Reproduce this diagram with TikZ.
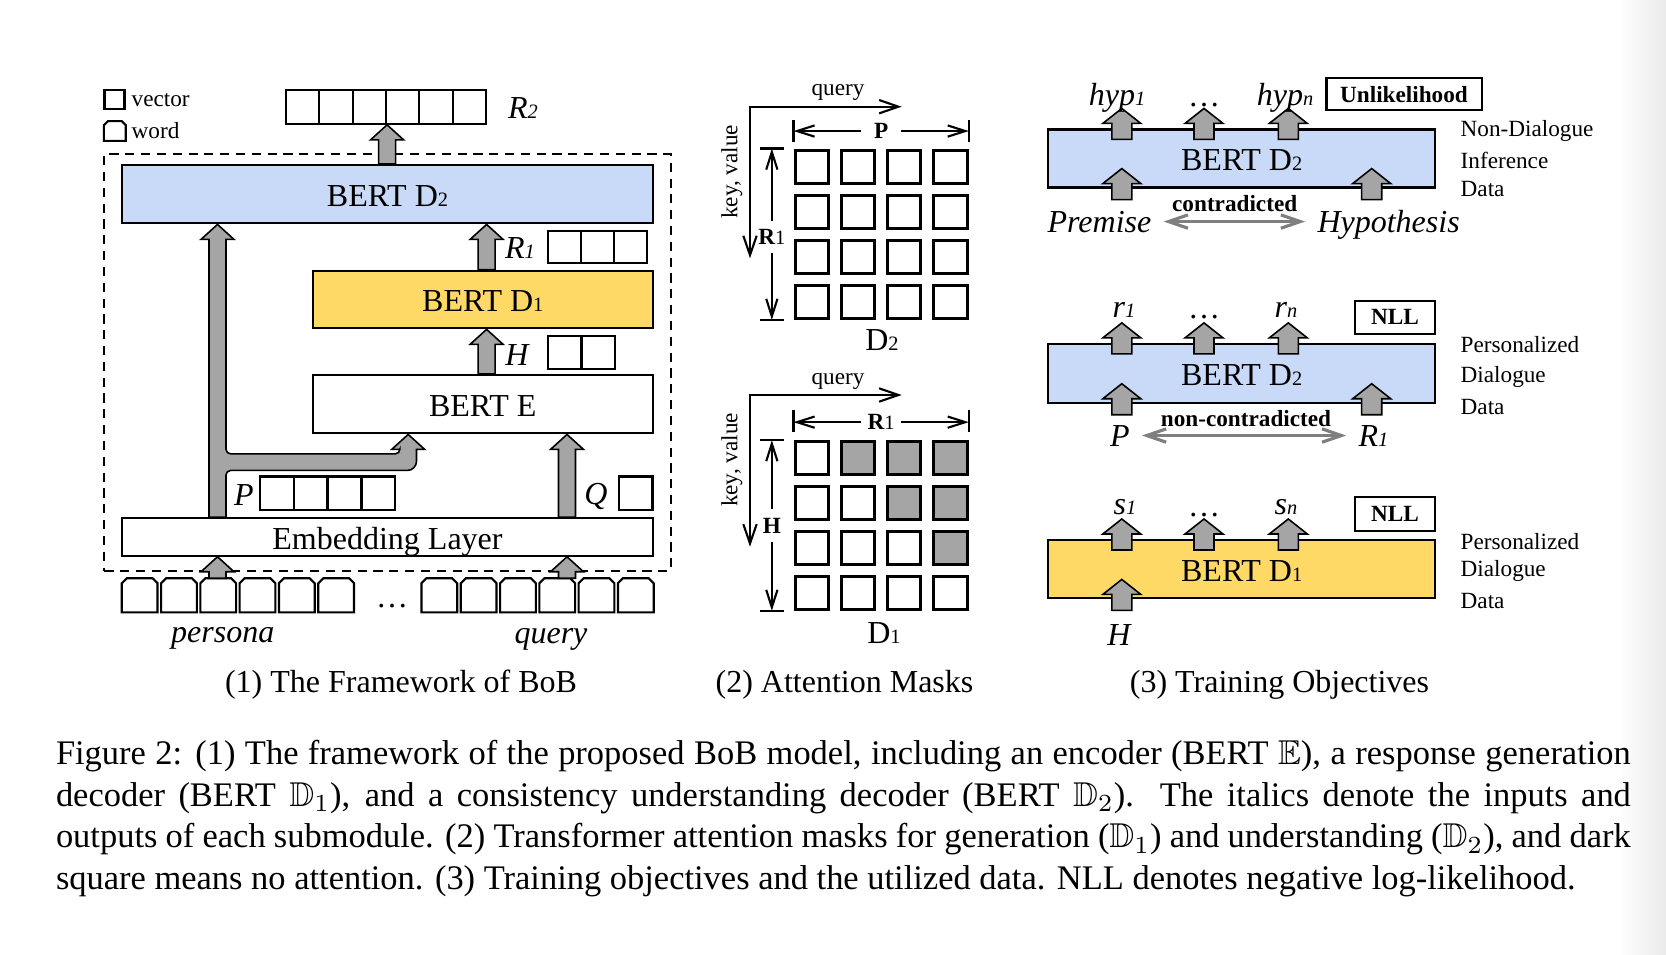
\documentclass[tikz,border=0pt]{standalone}
\usepackage{fontspec}
\setmainfont{Liberation Serif}
\usepackage{amssymb}
\usetikzlibrary{positioning,calc,arrows.meta}

\definecolor{bertblue}{HTML}{C9DAF8}
\definecolor{bertyellow}{HTML}{FFD966}
\definecolor{arrgray}{HTML}{A5A5A5}
\definecolor{linkgray}{HTML}{7F7F7F}

\newcommand{\mdfont}{\fontsize{9.1}{11}\selectfont}
\newcommand{\smfont}{\fontsize{6.6}{8}\selectfont}
\newcommand{\capfont}{\fontsize{9.8}{11.8}\selectfont}
\newcommand{\lo}[1]{{\fontsize{5.8}{7}\selectfont #1}}
\newcommand{\vname}[2]{\textit{#1\lo{#2}}}

% fat block arrow pointing up: from, to, half shaft, half head, head length
\newcommand{\fatarrow}[5]{%
  \draw[fatarr] let \p1=#1, \p2=#2 in
    (\x1-#3,\y1) -- (\x1-#3,\y2-#5) -- (\x1-#4,\y2-#5) -- (\x1,\y2)
    -- (\x1+#4,\y2-#5) -- (\x1+#3,\y2-#5) -- (\x1+#3,\y1) -- cycle;}
\newcommand{\bigup}[2]{\fatarrow{#1}{#2}{0.085cm}{0.165cm}{0.15cm}}
\newcommand{\smup}[2]{\fatarrow{#1}{#2}{0.1cm}{0.19cm}{0.15cm}}
% word token outline, top corners cut
\newcommand{\wordbox}[2]{%
  \draw[tokline] (#1.south west) -- ($(#1.north west)+(0,#2)$) -- ($(#1.north west)+(#2,0)$)
    -- ($(#1.north east)+(-#2,0)$) -- ($(#1.north east)+(0,#2)$) -- (#1.south east) -- cycle;}

\tikzset{
  box/.style={draw, line width=0.6pt, inner sep=0pt, font=\mdfont, text height=7pt, text depth=0pt},
  dashframe/.style={draw, dash pattern=on 2.6pt off 1.9pt, line width=0.6pt, inner sep=0pt},
  vec/.style={draw, line width=0.6pt, inner sep=0pt, minimum width=0.333cm, minimum height=0.335cm},
  tok/.style={inner sep=0pt, minimum width=0.343cm, minimum height=0.327cm},
  tokline/.style={line width=0.6pt, line join=miter},
  cell/.style={draw, fill=white, line width=0.85pt, inner sep=0pt, minimum size=0.333cm},
  fatarr/.style={draw=black, fill=arrgray, line width=0.45pt},
  lbl/.style={font=\mdfont\itshape, anchor=base},
  txt/.style={font=\mdfont},
  smalltxt/.style={font=\smfont},
  lossbox/.style={draw, line width=0.6pt, inner sep=0pt, font=\smfont\bfseries},
  axisline/.style={line width=0.6pt, {Straight Barb[length=5.5pt,width=3.8pt]}-{Straight Barb[length=5.5pt,width=3.8pt]}},
  dimline/.style={line width=0.6pt, {Straight Barb[length=5pt,width=3.2pt]}-{Straight Barb[length=5pt,width=3.2pt]}},
  dimlab/.style={fill=white, inner sep=0pt, font=\smfont\bfseries},
  dimtick/.style={line width=0.6pt},
  linkarr/.style={draw=linkgray, line width=0.9pt, {Straight Barb[length=5.5pt,width=3.8pt]}-{Straight Barb[length=5.5pt,width=3.8pt]}},
}

\begin{document}
\begin{tikzpicture}[x=0.01cm, y=-0.01cm]
  \useasboundingbox (0,0) rectangle (1666,954);
  \shade[left color=white, right color=black!8] (1618,0) rectangle (1666,954);

  % (1) framework
  \node[dashframe, minimum width=5.66cm, minimum height=4.162cm] (frame) at (387.6,362.6) {};
  \node[box, fill=bertblue, minimum width=5.30cm, minimum height=0.583cm] (d2) at (387.5,194.2) {BERT D\lo{2}};
  \node[box, fill=bertyellow, minimum width=3.396cm, minimum height=0.576cm] (d1) at (482.8,299.5) {BERT D\lo{1}};
  \node[box, fill=white, minimum width=3.396cm, minimum height=0.583cm] (enc) at (482.8,404.2) {BERT E};
  \node[box, fill=white, minimum width=5.30cm, minimum height=0.374cm] (emb) at (387.5,537) {Embedding Layer};

  \foreach \k in {1,...,6}
    \node[vec] (r2c\k) at ({302.7+33.33*(\k-1)},107) {};
  \foreach \k in {1,2,3}
    \node[vec, minimum height=0.326cm] (r1c\k) at ({564.5+33*(\k-1)},247) {};
  \foreach \k in {1,2}
    \node[vec] (hc\k) at ({564.75+33.5*(\k-1)},352.5) {};
  \foreach \k in {1,...,4}
    \node[vec] (pc\k) at ({277.1+33.7*(\k-1)},493.3) {};
  \node[vec] (qc1) at (635.8,493.3) {};

  \node[lbl] (r2lab) at (523,118.5) {\vname{R}{2}};
  \node[lbl] (r1lab) at (520,258.3) {\vname{R}{1}};
  \node[lbl] (hlab) at (517,365) {H};
  \node[lbl] (plab) at (244,505) {P};
  \node[lbl] (qlab) at (596,504) {Q};

  \foreach \k in {1,...,6} {
    \node[tok] (tl\k) at ({139.65+39.3*(\k-1)},595.3) {};
    \wordbox{tl\k}{5}
    \node[tok] (tr\k) at ({439.35+39.3*(\k-1)},595.3) {};
    \wordbox{tr\k}{5}
  }
  \node[txt, anchor=base] (dotsl) at (392,607) {\dots};
  \node[lbl] (persona) at (222.8,642.5) {persona};
  \node[lbl] (query) at (551,643) {query};

  \node[vec, minimum width=0.2cm, minimum height=0.19cm] (legvec) at (114.5,99.7) {};
  \node[smalltxt, anchor=west, inner sep=0pt] (legvectxt) at (131,99.7) {vector};
  \node[tok, minimum width=0.204cm, minimum height=0.183cm] (legtok) at (114.8,131) {};
  \wordbox{legtok}{4}
  \node[smalltxt, anchor=west, inner sep=0pt] (legtoktxt) at (131,131) {word};

  \coordinate (lx) at (217.5,0);
  \coordinate (bx) at (408.2,0);
  \coordinate (qx) at (567,0);
  \coordinate (rx) at (486.6,0);

  \bigup{(d2.north -| r2c3.south east)}{(r2c3.south east)}
  \bigup{(d1.north -| rx)}{(d2.south -| rx)}
  \bigup{(enc.north -| rx)}{(d1.south -| rx)}
  \bigup{(emb.north -| qx)}{(enc.south -| qx)}
  \bigup{(tl3.north -| lx)}{(emb.south -| lx)}
  \bigup{(tr4.north -| qx)}{(emb.south -| qx)}
  % persona goes to D2 and, through a branch, to E
  \draw[fatarr] let \p1=(emb.north -| lx), \p2=(d2.south -| lx), \p3=(enc.south -| bx) in
    (\x1-0.085cm,\y1) -- (\x1-0.085cm,\y2-0.15cm) -- (\x1-0.165cm,\y2-0.15cm) -- (\x2,\y2)
    -- (\x1+0.165cm,\y2-0.15cm) -- (\x1+0.085cm,\y2-0.15cm)
    [rounded corners=1.3pt] -- (\x1+0.085cm,\y3-0.194cm) -- (\x3-0.083cm,\y3-0.194cm)
    [sharp corners] -- (\x3-0.083cm,\y3-0.15cm) -- (\x3-0.165cm,\y3-0.15cm) -- (\x3,\y3)
    -- (\x3+0.165cm,\y3-0.15cm) -- (\x3+0.083cm,\y3-0.15cm)
    [rounded corners=2.6pt] -- (\x3+0.083cm,\y3-0.36cm)
    [rounded corners=1.3pt] -- (\x1+0.085cm,\y3-0.36cm)
    [sharp corners] -- (\x1+0.085cm,\y1) -- cycle;

  \node[txt] (cap1) at (401,685) {(1) The Framework of BoB};

  % (2) attention masks
  \foreach \i in {1,...,4}
    \foreach \j in {1,...,4} {
      \node[cell] (mtop-\i-\j) at ({811.7+46.3*(\j-1)},{166.7+45*(\i-1)}) {};
      \ifnum\j>\i \def\cf{arrgray}\else\def\cf{white}\fi
      \node[cell, fill=\cf] (mbot-\i-\j) at ({811.7+46.3*(\j-1)},{458.3+44.8*(\i-1)}) {};
    }

  \coordinate (qa0) at (750,106.7);
  \coordinate (qa1) at (901.7,106.7);
  \coordinate (ka1) at (750,258.3);
  \draw[axisline] (ka1) -- (qa0) -- (qa1);
  \node[smalltxt] (qtop) at (838,92.5) {query};
  \node[smalltxt, rotate=90] (ktop) at (731.7,171.7) {key, value};
  \draw[dimline] ($(mtop-1-1.north west)+(0,-17.5)$) --
    node[dimlab, minimum width=0.4cm] (pdim) {P} ($(mtop-1-4.north east)+(0,-17.5)$);
  \draw[dimtick] ($(mtop-1-1.north west)+(0,-29)$) -- ($(mtop-1-1.north west)+(0,-7)$);
  \draw[dimtick] ($(mtop-1-4.north east)+(0,-29)$) -- ($(mtop-1-4.north east)+(0,-7)$);
  \draw[dimline] ($(mtop-1-1.north west)+(-21.7,0)$) --
    node[dimlab, minimum height=0.32cm, yshift=-0.03cm] (r1dim) {R\lo{\mdseries 1}} ($(mtop-4-1.south west)+(-21.7,0)$);
  \draw[dimtick] ($(mtop-1-1.north west)+(-33.3,0)$) -- ($(mtop-1-1.north west)+(-10,0)$);
  \draw[dimtick] ($(mtop-4-1.south west)+(-33.3,0)$) -- ($(mtop-4-1.south west)+(-10,0)$);
  \node[txt] (d2lab) at (882,340) {D\lo{2}};

  \coordinate (qb0) at (750,395);
  \coordinate (qb1) at (901.7,395);
  \coordinate (kb1) at (750,546.7);
  \draw[axisline] (kb1) -- (qb0) -- (qb1);
  \node[smalltxt] (qbot) at (838,381) {query};
  \node[smalltxt, rotate=90] (kbot) at (731.7,460) {key, value};
  \draw[dimline] ($(mbot-1-1.north west)+(0,-18)$) --
    node[dimlab, minimum width=0.4cm] (r1dimb) {R\lo{\mdseries 1}} ($(mbot-1-4.north east)+(0,-18)$);
  \draw[dimtick] ($(mbot-1-1.north west)+(0,-29.7)$) -- ($(mbot-1-1.north west)+(0,-8)$);
  \draw[dimtick] ($(mbot-1-4.north east)+(0,-29.7)$) -- ($(mbot-1-4.north east)+(0,-8)$);
  \draw[dimline] ($(mbot-1-1.north west)+(-21.7,0)$) --
    node[dimlab, minimum height=0.32cm] (hdim) {H} ($(mbot-4-1.south west)+(-21.7,0)$);
  \draw[dimtick] ($(mbot-1-1.north west)+(-33.3,0)$) -- ($(mbot-1-1.north west)+(-10,0)$);
  \draw[dimtick] ($(mbot-4-1.south west)+(-33.3,0)$) -- ($(mbot-4-1.south west)+(-10,0)$);
  \node[txt] (d1lab) at (884,633.3) {D\lo{1}};

  \node[txt] (cap2) at (844.5,685) {(2) Attention Masks};

  % (3) training objectives
  \node[box, fill=bertblue, minimum width=3.866cm, minimum height=0.58cm] (ta) at (1241.7,158.5) {BERT D\lo{2}};
  \node[box, fill=bertblue, minimum width=3.866cm, minimum height=0.587cm] (tb) at (1241.7,373.3) {BERT D\lo{2}};
  \node[box, fill=bertyellow, minimum width=3.866cm, minimum height=0.583cm] (tc) at (1241.7,569.2) {BERT D\lo{1}};

  \coordinate (ox1) at (1121.8,0);
  \coordinate (ox2) at (1204,0);
  \coordinate (ox3) at (1288.3,0);
  \coordinate (ox4) at (1371.7,0);

  \foreach \b in {ta,tb,tc}
    \foreach \c in {ox1,ox2,ox3}
      \smup{($(\b.north -| \c)+(0,11)$)}{($(\b.north -| \c)+(0,-20)$)};
  \foreach \b/\c in {ta/ox1,ta/ox4,tb/ox1,tb/ox4,tc/ox1}
    \smup{($(\b.south -| \c)+(0,11)$)}{($(\b.south -| \c)+(0,-20)$)};

  \node[lbl] (hyp1) at (1117,105.7) {\vname{hyp}{1}};
  \node[txt, anchor=base] (dotsa) at (1204,106) {\dots};
  \node[lbl] (hypn) at (1285,105.7) {\vname{hyp}{n}};
  \node[lossbox, minimum width=1.55cm, minimum height=0.317cm] (ulk) at (1404,94.2) {Unlikelihood};
  \node[smalltxt, font=\smfont\bfseries, anchor=base] (con) at (1234.7,211) {contradicted};
  \node[lbl] (prem) at (1099.5,232) {Premise};
  \node[lbl] (hypo) at (1388.6,232) {Hypothesis};
  \draw[linkarr] (prem.east) -- (prem.east -| hypo.west);
  \node[smalltxt, anchor=west, inner sep=0pt] (da1) at (1460,130.7) {Non-Dialogue};
  \node[smalltxt, anchor=west, inner sep=0pt] (da2) at (1460,160) {Inference};
  \node[smalltxt, anchor=west, inner sep=0pt] (da3) at (1460,189.3) {Data};

  \node[lbl] (rr1) at (1124,317) {\vname{r}{1}};
  \node[txt, anchor=base] (dotsb) at (1204,318) {\dots};
  \node[lbl] (rrn) at (1286,317) {\vname{r}{n}};
  \node[lossbox, minimum width=0.8cm, minimum height=0.333cm] (nll1) at (1395,317.3) {NLL};
  \node[smalltxt, font=\smfont\bfseries, anchor=base] (ncon) at (1246,426) {non-contradicted};
  \node[lbl] (pp) at (1119.8,446) {P};
  \node[lbl] (rr) at (1373.5,446) {\vname{R}{1}};
  \draw[linkarr] (pp.east) -- (pp.east -| rr.west);
  \node[smalltxt, anchor=west, inner sep=0pt] (db1) at (1460,345) {Personalized};
  \node[smalltxt, anchor=west, inner sep=0pt] (db2) at (1460,376.7) {Dialogue};
  \node[smalltxt, anchor=west, inner sep=0pt] (db3) at (1460,406.7) {Data};

  \node[lbl] (ss1) at (1125,514) {\vname{s}{1}};
  \node[txt, anchor=base] (dotsc) at (1204,516) {\dots};
  \node[lbl] (ssn) at (1286,514) {\vname{s}{n}};
  \node[lossbox, minimum width=0.8cm, minimum height=0.34cm] (nll2) at (1395,513.7) {NLL};
  \node[lbl] (hh) at (1119,645.5) {H};
  \node[smalltxt, anchor=west, inner sep=0pt] (dc1) at (1460,541.7) {Personalized};
  \node[smalltxt, anchor=west, inner sep=0pt] (dc2) at (1460,570.7) {Dialogue};
  \node[smalltxt, anchor=west, inner sep=0pt] (dc3) at (1460,600.7) {Data};

  \node[txt] (cap3) at (1279.5,685) {(3) Training Objectives};

  % figure caption
  \node[anchor=north west, text width=15.74cm, align=justify, inner sep=0pt, font=\capfont] (caption) at (55.3,740)
    {Figure 2: (1) The framework of the proposed BoB model, including an encoder (BERT $\mathbb{E}$), a response generation\linebreak
     decoder (BERT $\mathbb{D}_1$), and a consistency understanding decoder (BERT $\mathbb{D}_2$).  The italics denote the inputs and\linebreak
     outputs of each submodule. (2) Transformer attention masks for generation ($\mathbb{D}_1$) and understanding ($\mathbb{D}_2$), and dark\linebreak
     square means no attention. (3) Training objectives and the utilized data. NLL denotes negative log-likelihood.};
\end{tikzpicture}
\end{document}
